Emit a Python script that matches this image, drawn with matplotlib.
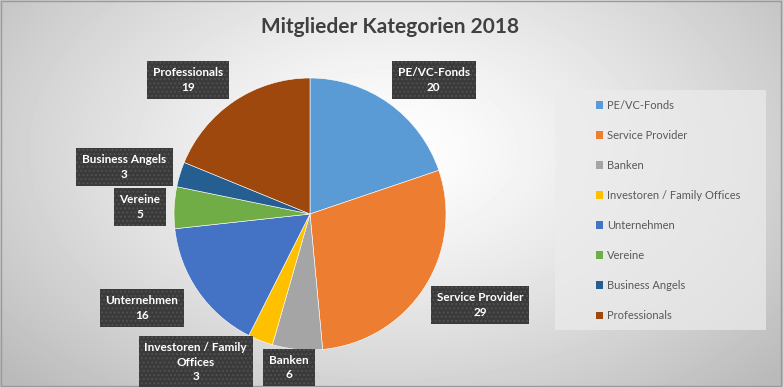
import numpy as np
import matplotlib
matplotlib.use("Agg")
import matplotlib.pyplot as plt
from matplotlib.patches import Patch, Rectangle

plt.rcParams['font.family'] = ['Lato', 'DejaVu Sans']

categories = ['PE/VC-Fonds', 'Service Provider', 'Banken', 'Investoren / Family Offices',
              'Unternehmen', 'Vereine', 'Business Angels', 'Professionals']
box_labels = ['PE/VC-Fonds', 'Service Provider', 'Banken', 'Investoren / Family\nOffices',
              'Unternehmen', 'Vereine', 'Business Angels', 'Professionals']
values = [20, 29, 6, 3, 16, 5, 3, 19]
colors = ['#5B9BD5', '#ED7D31', '#A5A5A5', '#FFC000', '#4472C4', '#70AD47', '#255E91', '#9E480E']

# label box centres, in pie radii relative to the centre
label_pos = [(0.91, 0.985), (1.25, -0.67), (-0.155, -1.13), (-0.84, -1.09),
             (-1.235, -0.69), (-1.25, 0.05), (-1.364, 0.346), (-0.897, 0.985)]

W, H = 783, 387
fig = plt.figure(figsize=(W / 100, H / 100), dpi=100)

# radial grey background
bg = fig.add_axes([0, 0, 1, 1])
yy, xx = np.mgrid[0:H, 0:W]
d = np.sqrt(((xx - 390) / 520.0) ** 2 + ((yy - 150) / 330.0) ** 2)
shade = 1.0 - 0.27 * np.clip(d, 0, 1) ** 1.3
bg.imshow(shade, cmap='gray', vmin=0, vmax=1, extent=[0, 1, 0, 1], aspect='auto')
bg.set_axis_off()
bg.add_patch(Rectangle((0.001, 0.002), 0.997, 0.995, transform=bg.transAxes,
                       fill=False, edgecolor='#9a9a9a', lw=1))

# pie axes: centre at pixel (310, 214), radius 136 px
cx, cy, r = 310, 214, 136
ax = fig.add_axes([0, 0, 1, 1])
ax.pie(values, colors=colors, startangle=90, counterclock=False, radius=1,
       wedgeprops=dict(edgecolor='white', linewidth=0.4))
ax.set_xlim(-cx / r, (W - cx) / r)
ax.set_ylim(-(H - cy) / r, cy / r)
ax.set_axis_off()

for lab, v, (x, y) in zip(box_labels, values, label_pos):
    ax.text(x, y, f'{lab}\n{v}', ha='center', va='center', color='white',
            fontsize=8.5, fontweight='bold', linespacing=1.4,
            bbox=dict(boxstyle='square,pad=0.5', facecolor='#3a3a3a',
                      edgecolor='#505050', linewidth=0, hatch='....'))

fig.text(390 / W, 1 - 27 / H, 'Mitglieder Kategorien 2018', ha='center', va='center',
         fontsize=15, fontweight='bold', color='#404040')

# legend panel
fig.patches.append(Rectangle((555 / W, 1 - 330 / H), 211 / W, 240 / H,
                             transform=fig.transFigure, facecolor='#ececec',
                             edgecolor='none', alpha=0.7, zorder=1))
handles = [Patch(facecolor=c, edgecolor='none') for c in colors]
fig.legend(handles, categories, loc='upper left', bbox_to_anchor=(590 / W, 1 - 94 / H),
           frameon=False, fontsize=8, labelcolor='#595959', labelspacing=1.72,
           handlelength=0.7, handleheight=0.7, handletextpad=0.3, borderpad=0)

fig.savefig('out.png', dpi=100)
